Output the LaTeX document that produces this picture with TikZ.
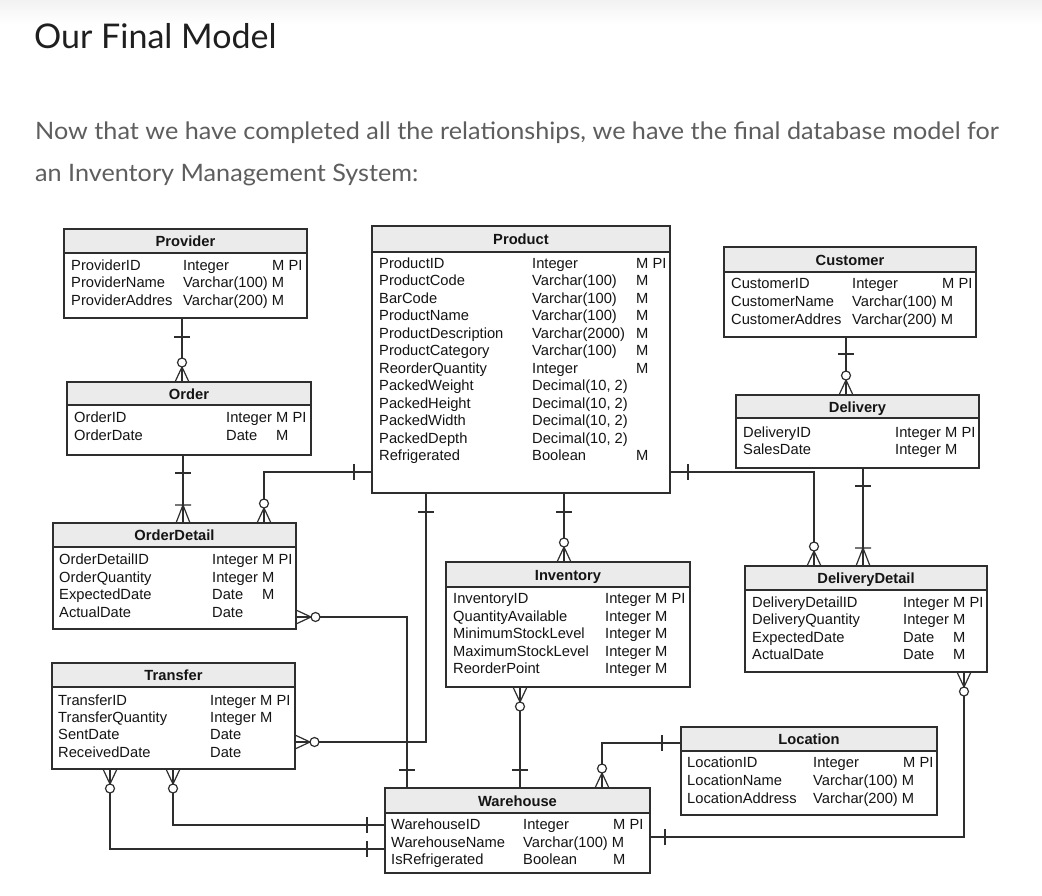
\documentclass[tikz,border=0pt]{standalone}
\usepackage{fontspec}
\setmainfont{Liberation Sans}
\newfontfamily\webfont{Lato}
\newfontfamily\parafont{Lato}[FakeStretch=1.05]
\definecolor{ink}{HTML}{2E2E2E}
\definecolor{hdrgray}{HTML}{EBEBEB}
\definecolor{para}{HTML}{5E5E5E}
\newcount\cellno
\tikzset{
  conn/.style={draw=ink, line width=1.2pt},
  tline/.style={draw=ink, line width=1.5pt},
  tbox/.style={draw=ink, line width=1.5pt, rectangle, inner sep=0pt, outer sep=0pt},
  cell/.style={anchor=base west, inner sep=0pt, font=\fontsize{14.7}{17.5}\selectfont, text=black!92},
  hdrtxt/.style={anchor=base, inner sep=0pt, font=\fontsize{14.7}{17.5}\selectfont\bfseries, text=black!92},
  zmany/.pic={\draw[conn] (-15,0)--(0,7) (-15,0)--(0,0) (-15,0)--(0,-7);
              \draw[conn,fill=white] (-19.5,0) circle[radius=4.5pt];},
  onemany/.pic={\draw[conn] (-18,0)--(0,7) (-18,0)--(0,0) (-18,0)--(0,-7) (-18,-8)--(-18,8);},
  onebar/.pic={\draw[conn] (0,-8)--(0,8);},
}
% name, title, l, t, r, hdr, b
\newcommand\ertable[7]{%
  \fill[white] (#3,#4) rectangle (#5,#7);
  \fill[hdrgray] (#3,#4) rectangle (#5,#6);
  \draw[tline] (#3,#6) -- (#5,#6);
  \node[tbox, anchor=north west, minimum width={#5pt-#3pt}, minimum height={#7pt-#4pt}] (#1) at (#3,#4) {};
  \node[hdrtxt] (#1-title) at ({(#3+#5)/2},{(#4+#6)/2+5.5}) {#2};
}
\newcommand\cell[3]{\global\advance\cellno by 1 \node[cell] (c\the\cellno) at (#1,#2+5) {#3};}
\newcommand\setcols[3]{\def\ca{#1}\def\cb{#2}\def\cc{#3}}
\newcommand\erow[4]{\cell{\ca}{#1}{#2}\cell{\cb}{#1}{#3}\if\relax\detokenize{#4}\relax\else\cell{\cc}{#1}{#4}\fi}
\begin{document}
\begin{tikzpicture}[x=1pt,y=-1pt]
\useasboundingbox (0,0) rectangle (1042,895);
\fill[white] (0,0) rectangle (1042,895);
\shade[top color=black!5, bottom color=white] (0,0) rectangle (1042,24);

\node[anchor=base west, inner sep=0pt, font=\webfont\fontsize{34}{40}\selectfont, text=black!88] (title) at (34,48) {Our Final Model};
\node[anchor=base west, inner sep=0pt, font=\parafont\fontsize{24}{28}\selectfont, text=para] (p1) at (35,139) {Now that we have completed all the relationships, we have the final database model for};
\node[anchor=base west, inner sep=0pt, font=\parafont\fontsize{24}{28}\selectfont, text=para] (p2) at (35,181) {an Inventory Management System:};

% ---------- tables ----------
\ertable{prov}{Provider}{64}{229}{307}{253}{318}
\setcols{71}{183}{272}
\erow{265}{ProviderID}{Integer}{M PI}
\erow{282.5}{ProviderName}{Varchar(100) M}{}
\erow{300}{ProviderAddres}{Varchar(200) M}{}

\ertable{ord}{Order}{67}{382}{311}{405}{455}
\setcols{74}{226}{276}
\erow{417}{OrderID}{Integer}{M PI}
\erow{435}{OrderDate}{Date}{M}

\ertable{prod}{Product}{372}{226}{670}{252}{493}
\setcols{379}{532}{636}
\erow{263}{ProductID}{Integer}{M PI}
\erow{280.5}{ProductCode}{Varchar(100)}{M}
\erow{298}{BarCode}{Varchar(100)}{M}
\erow{315.5}{ProductName}{Varchar(100)}{M}
\erow{333}{ProductDescription}{Varchar(2000)}{M}
\erow{350.5}{ProductCategory}{Varchar(100)}{M}
\erow{368}{ReorderQuantity}{Integer}{M}
\erow{385.5}{PackedWeight}{Decimal(10, 2)}{}
\erow{403}{PackedHeight}{Decimal(10, 2)}{}
\erow{420.5}{PackedWidth}{Decimal(10, 2)}{}
\erow{438}{PackedDepth}{Decimal(10, 2)}{}
\erow{455.5}{Refrigerated}{Boolean}{M}

\ertable{cust}{Customer}{724}{247}{976}{272}{337}
\setcols{731}{852}{942}
\erow{283}{CustomerID}{Integer}{M PI}
\erow{301}{CustomerName}{Varchar(100) M}{}
\erow{319}{CustomerAddres}{Varchar(200) M}{}

\ertable{deliv}{Delivery}{736}{395}{979}{418}{468}
\setcols{743}{895}{945}
\erow{432}{DeliveryID}{Integer}{M PI}
\erow{449}{SalesDate}{Integer}{M}

\ertable{odet}{OrderDetail}{53}{523}{296}{547}{629}
\setcols{59}{212}{262}
\erow{559}{OrderDetailID}{Integer}{M PI}
\erow{577}{OrderQuantity}{Integer}{M}
\erow{594}{ExpectedDate}{Date}{M}
\erow{612}{ActualDate}{Date}{}

\ertable{inv}{Inventory}{446}{562}{690}{587}{687}
\setcols{453}{605}{655}
\erow{598}{InventoryID}{Integer}{M PI}
\erow{616}{QuantityAvailable}{Integer}{M}
\erow{633}{MinimumStockLevel}{Integer}{M}
\erow{651}{MaximumStockLevel}{Integer}{M}
\erow{668}{ReorderPoint}{Integer}{M}

\ertable{ddet}{DeliveryDetail}{745}{566}{987}{590}{672}
\setcols{752}{903}{953}
\erow{602}{DeliveryDetailID}{Integer}{M PI}
\erow{619}{DeliveryQuantity}{Integer}{M}
\erow{637}{ExpectedDate}{Date}{M}
\erow{654}{ActualDate}{Date}{M}

\ertable{trans}{Transfer}{52}{663}{295}{687}{769}
\setcols{58}{210}{260}
\erow{700}{TransferID}{Integer}{M PI}
\erow{717}{TransferQuantity}{Integer}{M}
\erow{734}{SentDate}{Date}{}
\erow{752}{ReceivedDate}{Date}{}

\ertable{loc}{Location}{681}{727}{937}{751}{815}
\setcols{687}{813}{903}
\erow{762}{LocationID}{Integer}{M PI}
\erow{780}{LocationName}{Varchar(100) M}{}
\erow{798}{LocationAddress}{Varchar(200) M}{}

\ertable{wh}{Warehouse}{385}{788}{650}{813}{873}
\setcols{391}{523}{613}
\erow{824}{WarehouseID}{Integer}{M PI}
\erow{842}{WarehouseName}{Varchar(100) M}{}
\erow{859}{IsRefrigerated}{Boolean}{M}

% ---------- connectors ----------
% Provider - Order
\draw[conn] (prov.south -| 182,0) -- (ord.north -| 182,0);
\pic[rotate=90] at (182,337) {onebar};
\pic[rotate=-90] at (ord.north -| 182,0) {zmany};
% Order - OrderDetail
\draw[conn] (ord.south -| 183,0) -- (odet.north -| 183,0);
\pic[rotate=90] at (183,473) {onebar};
\pic[rotate=-90] at (odet.north -| 183,0) {onemany};
% Product - OrderDetail
\draw[conn] (prod.west |- 0,472) -| (odet.north -| 264,0);
\pic at (354,472) {onebar};
\pic[rotate=-90] at (odet.north -| 264,0) {zmany};
% Product - Inventory
\draw[conn] (prod.south -| 564,0) -- (inv.north -| 564,0);
\pic[rotate=90] at (564,512) {onebar};
\pic[rotate=-90] at (inv.north -| 564,0) {zmany};
% Product - Transfer
\draw[conn] (prod.south -| 426,0) |- (trans.east |- 0,742);
\pic[rotate=90] at (426,512) {onebar};
\pic[rotate=180] at (trans.east |- 0,742) {zmany};
% Product - DeliveryDetail
\draw[conn] (prod.east |- 0,472) -| (ddet.north -| 814,0);
\pic at (688,472) {onebar};
\pic[rotate=-90] at (ddet.north -| 814,0) {zmany};
% Delivery - DeliveryDetail
\draw[conn] (deliv.south -| 863,0) -- (ddet.north -| 863,0);
\pic[rotate=90] at (863,486) {onebar};
\pic[rotate=-90] at (ddet.north -| 863,0) {onemany};
% Customer - Delivery
\draw[conn] (cust.south -| 846,0) -- (deliv.north -| 846,0);
\pic[rotate=90] at (846,354) {onebar};
\pic[rotate=-90] at (deliv.north -| 846,0) {zmany};
% Warehouse - OrderDetail
\draw[conn] (odet.east |- 0,617) -| (wh.north -| 407,0);
\pic[rotate=90] at (407,770) {onebar};
\pic[rotate=180] at (odet.east |- 0,617) {zmany};
% Warehouse - Inventory
\draw[conn] (inv.south -| 520,0) -- (wh.north -| 520,0);
\pic[rotate=90] at (520,770) {onebar};
\pic[rotate=90] at (inv.south -| 520,0) {zmany};
% Location - Warehouse
\draw[conn] (loc.west |- 0,743) -| (wh.north -| 602,0);
\pic at (662,743) {onebar};
\pic[rotate=-90] at (wh.north -| 602,0) {zmany};
% Warehouse - DeliveryDetail
\draw[conn] (ddet.south -| 964,0) |- (wh.east |- 0,837);
\pic at (665,837) {onebar};
\pic[rotate=90] at (ddet.south -| 964,0) {zmany};
% Warehouse - Transfer (two)
\draw[conn] (trans.south -| 173,0) |- (wh.west |- 0,825);
\pic at (367,825) {onebar};
\pic[rotate=90] at (trans.south -| 173,0) {zmany};
\draw[conn] (trans.south -| 110,0) |- (wh.west |- 0,849);
\pic at (367,849) {onebar};
\pic[rotate=90] at (trans.south -| 110,0) {zmany};
\end{tikzpicture}
\end{document}
